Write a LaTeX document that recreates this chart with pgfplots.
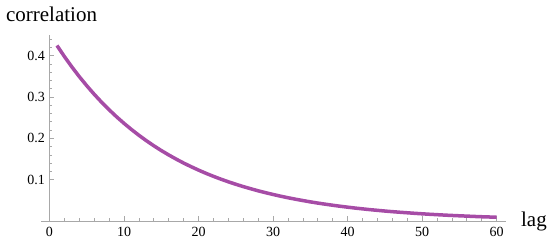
\documentclass[border=0pt]{standalone}
\usepackage{fontspec}
\setmainfont{Liberation Serif}
\usepackage{pgfplots}
\pgfplotsset{compat=1.18}
\definecolor{cCurve}{HTML}{A64CA6}
\definecolor{cAxis}{HTML}{A8A8A8}

\begin{document}
\begin{tikzpicture}
\begin{axis}[
    x=7.453pt, y=413pt,
    xmin=-1.1, xmax=61.2, ymin=0, ymax=0.45,
    axis x line=bottom, axis y line=middle,
    axis line style={-,draw=cAxis,line width=0.8pt},
    every tick/.style={draw=cAxis,line width=0.8pt},
    tick align=inside,
    major tick length=5pt, minor tick length=3pt,
    xtick={0,10,...,60}, ytick={0.1,0.2,0.3,0.4},
    xticklabels={0,10,20,30,40,50,60},
    yticklabels={0.1,0.2,0.3,0.4},
    minor x tick num=4, minor y tick num=4,
    extra y ticks={0.42,0.44}, extra y tick labels={},
    extra y tick style={major tick length=3pt},
    tick label style={font=\rmfamily\fontsize{14}{16}\selectfont,text=black},
    xticklabel style={yshift=-3pt},
    yticklabel style={xshift=-1pt},
    xlabel={lag}, ylabel={correlation},
    label style={font=\rmfamily\fontsize{21}{24}\selectfont},
    xlabel style={at={(rel axis cs:1,0)},anchor=base west,xshift=12pt,yshift=-6pt},
    ylabel style={at={(axis cs:0,0.45)},anchor=base west,rotate=0,xshift=-47pt,yshift=14pt},
    clip=false,
]
\coordinate (O) at (axis cs:0,0);
\addplot[cCurve,line width=3.5pt,line join=round] coordinates {
(1,0.4250) (2,0.3982) (3,0.3731) (4,0.3495) (5,0.3275) (6,0.3068)
(7,0.2874) (8,0.2693) (9,0.2523) (10,0.2364) (11,0.2215) (12,0.2075)
(13,0.1944) (14,0.1821) (15,0.1706) (16,0.1599) (17,0.1498) (18,0.1403)
(19,0.1315) (20,0.1232) (21,0.1154) (22,0.1081) (23,0.1013) (24,0.0949)
(25,0.0889) (26,0.0833) (27,0.0781) (28,0.0731) (29,0.0685) (30,0.0642)
(31,0.0601) (32,0.0563) (33,0.0528) (34,0.0495) (35,0.0463) (36,0.0434)
(37,0.0407) (38,0.0381) (39,0.0357) (40,0.0335) (41,0.0313) (42,0.0294)
(43,0.0275) (44,0.0258) (45,0.0241) (46,0.0226) (47,0.0212) (48,0.0199)
(49,0.0186) (50,0.0174) (51,0.0163) (52,0.0153) (53,0.0143) (54,0.0134)
(55,0.0126) (56,0.0118) (57,0.0110) (58,0.0103) (59,0.0097) (60,0.0091)
};
\end{axis}
\pgfresetboundingbox
\path[use as bounding box] ([shift={(-49.5pt,-25pt)}]O) rectangle ([shift={(500.5pt,221pt)}]O);
\end{tikzpicture}
\end{document}
